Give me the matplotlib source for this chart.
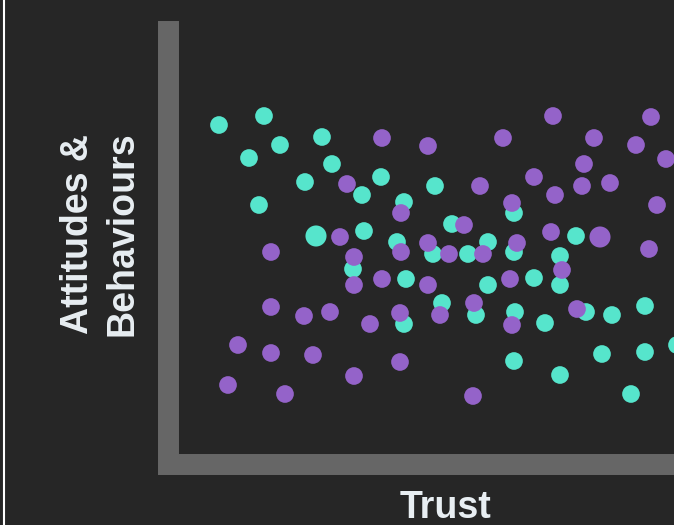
import matplotlib
matplotlib.use("Agg")
import matplotlib.pyplot as plt

# trust / attitude scores (arbitrary units)
teal_x = [51, 96, 112, 81, 154, 164, 137, 91, 148, 194, 196, 213, 267, 236,
          346, 284, 229, 320, 265, 300, 346, 408, 392, 185, 238, 320, 274,
          236, 308, 347, 346, 366, 392, 418, 444, 477, 377, 434, 477, 509,
          392, 463]
teal_y = [339, 348, 319, 306, 327, 300, 282, 259, 228, 269, 233, 287, 278, 262,
          251, 240, 222, 222, 210, 210, 212, 228, 208, 195, 185, 179, 161,
          140, 149, 152, 103, 186, 179, 152, 149, 158, 141, 110, 112, 119,
          89, 70]
teal_big = [8]

purple_x = [179, 172, 103, 186, 214, 260, 335, 312, 344, 233, 296, 260, 233,
            281, 315, 349, 385, 483, 426, 468, 498, 416, 366, 414, 442, 387,
            489, 383, 432, 481, 186, 103, 136, 162, 70, 103, 145, 60, 117,
            186, 214, 260, 342, 232, 202, 272, 306, 344, 232, 305, 394, 409]
purple_y = [280, 227, 212, 207, 326, 318, 326, 278, 261, 251, 239, 221, 212,
            210, 210, 221, 348, 347, 326, 319, 305, 300, 287, 278, 281, 269,
            259, 232, 227, 215, 179, 157, 148, 152, 119, 111, 109, 79, 70,
            88, 185, 179, 185, 151, 140, 149, 161, 139, 102, 68, 194, 155]
purple_big = [28]

bg = "#262626"
teal = "#56E5CC"
purple = "#9463C9"

W, H = 674, 525
fig = plt.figure(figsize=(W / 100, H / 100), dpi=100, facecolor=bg)

left, bottom, top = 168, 464, 30.5
ax = fig.add_axes([left / W, (H - bottom) / H, (W - left) / W, (bottom - top) / H])
ax.set_facecolor(bg)
ax.set_xlim(0, W - left)
ax.set_ylim(0, bottom - top)

ts = [230 if i in teal_big else 162 for i in range(len(teal_x))]
ps = [230 if i in purple_big else 162 for i in range(len(purple_x))]
ax.scatter(teal_x, teal_y, s=ts, color=teal, linewidths=0, zorder=2)
ax.scatter(purple_x, purple_y, s=ps, color=purple, linewidths=0, zorder=3)

for side in ["top", "right"]:
    ax.spines[side].set_visible(False)
for side in ["left", "bottom"]:
    ax.spines[side].set_color("#666666")
    ax.spines[side].set_linewidth(15.1)
    ax.spines[side].set_capstyle("projecting")
ax.set_xticks([])
ax.set_yticks([])

txt = "#E8EEF2"
fig.text(445.5 / W, 1 - 508 / H, "Trust", color=txt, fontsize=27,
         fontweight="bold", family="Liberation Sans", ha="center", va="center")
fig.text(100.5 / W, 1 - 234 / H, "Attitudes &\nBehaviours", color=txt, fontsize=27,
         fontweight="bold", family="Liberation Sans", ha="center", va="center",
         rotation=90, linespacing=1.3)

# thin white rule on the left edge
fig.add_artist(plt.Line2D([4 / W, 4 / W], [0, 1], color="white", linewidth=1.5))

fig.savefig("out.png", dpi=100, facecolor=bg)
